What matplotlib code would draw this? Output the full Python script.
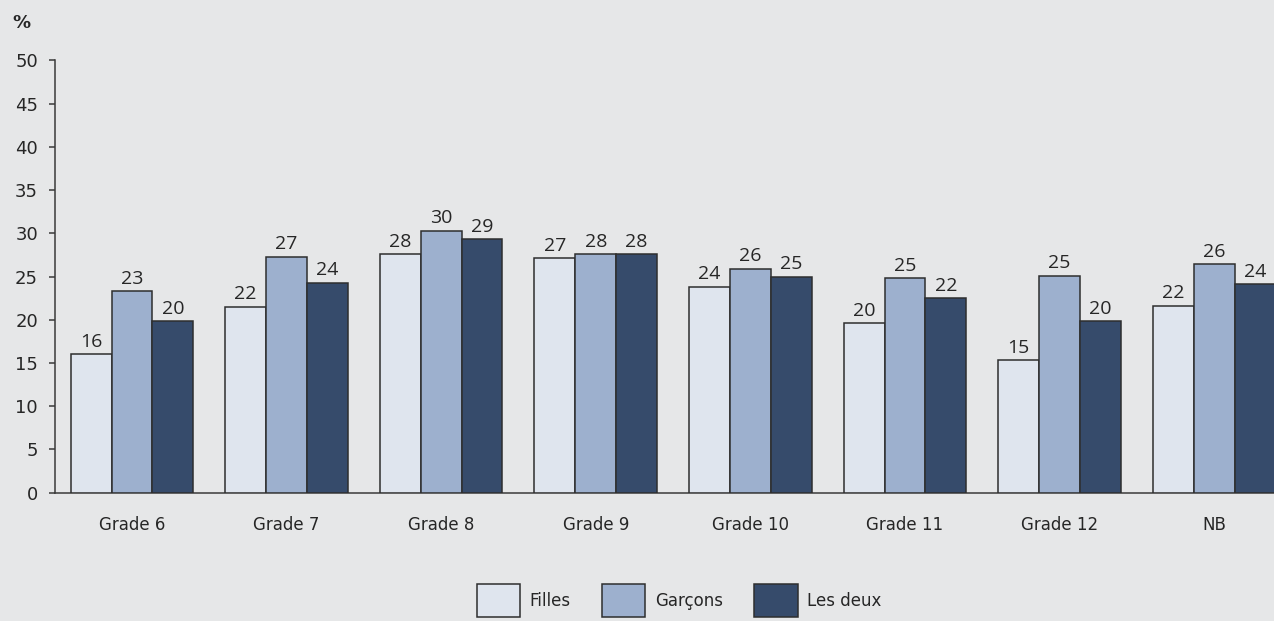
import matplotlib
matplotlib.use("Agg")
import matplotlib.pyplot as plt
import numpy as np

plt.rcParams["font.family"] = ["DejaVu Sans"]

categories = ["Grade 6", "Grade 7", "Grade 8", "Grade 9", "Grade 10", "Grade 11", "Grade 12", "NB"]
series_names = ["Filles", "Garçons", "Les deux"]
filles = [16.0, 21.5, 27.6, 27.1, 23.8, 19.6, 15.3, 21.6]
garcons = [23.3, 27.3, 30.3, 27.6, 25.9, 24.8, 25.1, 26.4]
les_deux = [19.8, 24.3, 29.3, 27.6, 25.0, 22.5, 19.8, 24.1]
y_ticks = list(range(0, 51, 5))

colors = ["#DFE5EE", "#9DB0CE", "#364B6B"]
bg = "#E6E7E8"
edge = "#2E2E2E"
text_col = "#262626"

fig = plt.figure(figsize=(12.74, 6.21), dpi=100, facecolor=bg)
ax = fig.add_axes([0.0429, 0.2066, 0.9708, 0.6963], facecolor=bg)

x = np.arange(len(categories))
w = 0.2645
for i, (name, vals) in enumerate(zip(series_names, [filles, garcons, les_deux])):
    bars = ax.bar(x + (i - 1) * w, vals, width=w, color=colors[i],
                  edgecolor=edge, linewidth=1.1, label=name, zorder=3)
    for b, v in zip(bars, vals):
        ax.annotate(f"{v:.0f}", (b.get_x() + b.get_width() / 2, v),
                    xytext=(0, 2.5), textcoords="offset points",
                    ha="center", va="bottom", fontsize=14,
                    family=["Open Sans", "DejaVu Sans"], color=text_col)

ax.set_xlim(-0.5, 7.5)
ax.set_ylim(0, 50)
ax.set_yticks(y_ticks)
ax.set_xticks(x)
ax.set_xticklabels(categories)

for s in ["top", "right"]:
    ax.spines[s].set_visible(False)
for s in ["left", "bottom"]:
    ax.spines[s].set_color("#3A3A3A")
    ax.spines[s].set_linewidth(1.1)

ax.tick_params(axis="y", length=4.5, width=1.1, color="#3A3A3A", pad=7.5,
               labelsize=13, labelcolor=text_col)
ax.tick_params(axis="x", length=0, pad=17, labelsize=12, labelcolor=text_col)

fig.text(0.0100, 0.963, "%", fontsize=13, fontweight="bold", color=text_col,
         ha="left", va="center")

leg = fig.legend(loc="center", bbox_to_anchor=(0.533, 0.033), ncol=3,
                 frameon=False, fontsize=12, handlelength=2.6, handleheight=2.6,
                 handletextpad=0.56, columnspacing=1.9, borderpad=0)
for t in leg.get_texts():
    t.set_color(text_col)

fig.savefig("out.png", dpi=100, facecolor=bg)
